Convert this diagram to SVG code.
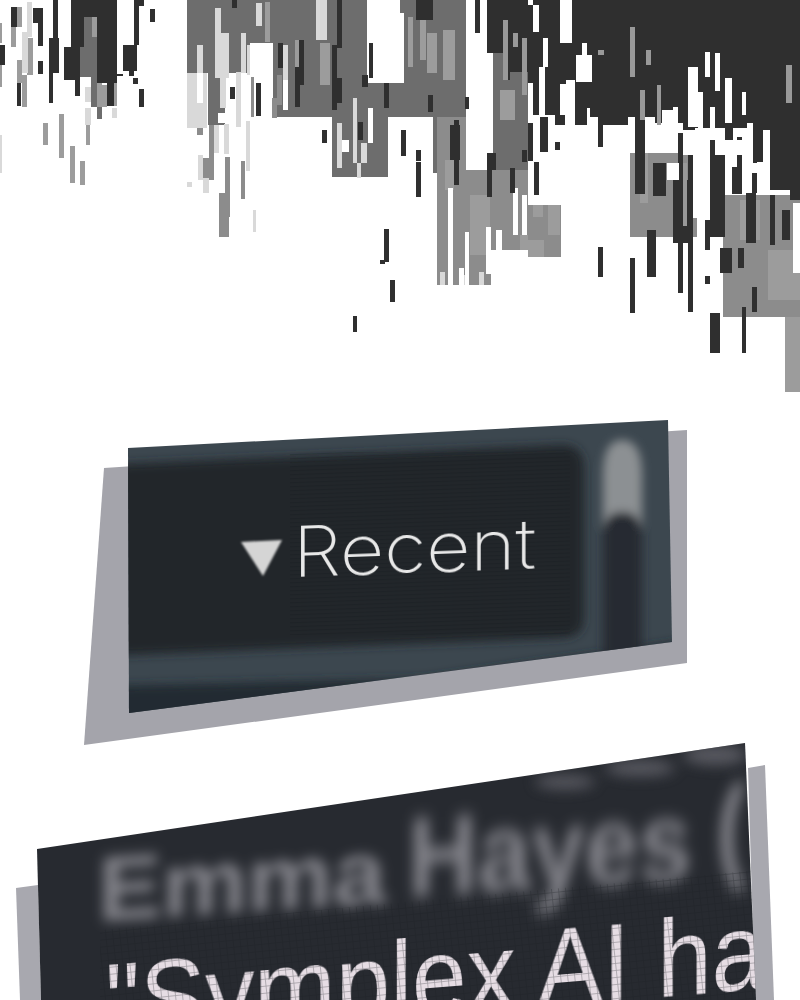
<svg xmlns="http://www.w3.org/2000/svg" width="800" height="1000" viewBox="0 0 800 1000">
<style>
.b{shape-rendering:crispEdges}
.sans{font-family:"Liberation Sans",Arial,sans-serif}
.blurtext{fill:#85858c;font-weight:700}
</style>
<defs>
<filter id="b1" x="-20%" y="-20%" width="140%" height="140%"><feGaussianBlur stdDeviation="1"/></filter>
<filter id="b03" x="-5%" y="-20%" width="110%" height="140%"><feGaussianBlur stdDeviation="0.5"/></filter>
<filter id="b5" x="-30%" y="-40%" width="160%" height="180%"><feGaussianBlur stdDeviation="6.5"/></filter>
<filter id="b6" x="-20%" y="-20%" width="140%" height="140%"><feGaussianBlur stdDeviation="5"/></filter>
<filter id="b8" x="-50%" y="-100%" width="200%" height="300%"><feGaussianBlur stdDeviation="7"/></filter>
<clipPath id="c1"><polygon points="128,448 668,420 672,642 129,713"/></clipPath>
<clipPath id="c2"><polygon points="37,849 745,743 756,1000 41,1000"/></clipPath>
<pattern id="scan" width="6" height="4" patternUnits="userSpaceOnUse" patternTransform="rotate(-2)"><rect width="6" height="1.3" fill="#10151a" opacity=".2"/></pattern>
<pattern id="grid" width="7" height="7" patternUnits="userSpaceOnUse" patternTransform="rotate(-6)"><path d="M0 0H7M0 0V7" stroke="#1b1c22" stroke-width="1.5" fill="none" opacity=".35"/></pattern>
</defs>
<rect width="800" height="1000" fill="#fff"/>

<g id="mosaic" class="b">
<path fill="#6d6d6d" d="M80 17h17v60h-17zM91 70h6v37h-6zM97 107h5v12h-5zM187 0h63v73h-63zM208 73h17v52h-17zM240 0h33v43h-33zM240 43h10v30h-10zM273 0h94v117h-94zM332 83h68v34h-68zM332 117h56v60h-56zM400 0h66v13h-66zM404 13h62v70h-62zM400 83h33v34h-33zM433 83h33v90h-33zM493 50h35v120h-35zM466 170h25v20h-25zM437 173h50v20h-50z"/>
<path fill="#8c8c8c" d="M437 117h54v168h-54zM490 170h38v80h-38zM528 205h33v52h-33zM225 157h5v60h-5zM219 193h10v44h-10zM241 161h4v38h-4zM251 77h3v40h-3zM277 75h5v30h-5zM272 98h5v20h-5zM197 105h6v30h-6zM209 125h5v55h-5zM203 158h7v22h-7zM723 195h77v122h-77zM630 153h67v84h-67z"/>
<path fill="#9c9c9c" d="M43 123h5v22h-5zM59 114h5v44h-5zM70 146h5v37h-5zM80 161h5v24h-5zM86 125h4v20h-4zM27 38h6v37h-6zM17 60h5v23h-5zM22 75h5v32h-5zM92 7h5v30h-5zM102 12h5v60h-5zM0 23h2v20h-2zM0 65h2v22h-2zM11 27h5v20h-5zM17 7h5v20h-5zM97 83h5v24h-5zM102 85h5v22h-5zM112 58h5v48h-5zM265 2h5v40h-5zM320 43h10v42h-10zM295 40h7v35h-7zM427 33h10v40h-10zM443 30h12v50h-12zM420 20h6v40h-6zM408 17h5v50h-5zM500 90h15v30h-15zM470 195h20v60h-20zM520 235h8v15h-8zM445 160h9v30h-9zM533 205h10v12h-10zM548 205h12v30h-12zM528 240h16v17h-16zM785 317h15v75h-15zM640 153h8v50h-8zM740 200h20v40h-20zM768 250h32v50h-32z"/>
<path fill="#d9d9d9" d="M22 32h6v41h-6zM27 2h5v35h-5zM85 87h6v15h-6zM85 108h6v17h-6zM112 108h5v10h-5zM0 135h2v38h-2zM187 73h20v55h-20zM215 33h14v45h-14zM215 8h6v60h-6zM197 45h6v30h-6zM220 78h6v30h-6zM241 33h5v40h-5zM247 45h3v30h-3zM236 72h5v55h-5zM246 121h4v50h-4zM253 210h3v22h-3zM256 3h6v23h-6zM316 0h11v40h-11zM283 45h5v60h-5zM224 124h5v30h-5zM214 125h5v28h-5zM198 155h5v25h-5zM203 178h6v15h-6zM187 182h5v5h-5zM337 123h5v45h-5zM353 98h4v65h-4zM361 143h6v20h-6zM357 163h4v15h-4zM440 272h5v13h-5zM479 272h5v13h-5zM461 275h4v10h-4z"/>
<path fill="#fff" d="M367 13h37v70h-37zM197 73h6v30h-6zM283 80h5v30h-5zM218 113h12v10h-12zM342 140h7v12h-7zM368 108h5v35h-5zM466 0h9v33h-9zM466 33h27v137h-27zM483 0h4v47h-4zM448 188h5v97h-5zM513 188h5v47h-5zM522 195h5v40h-5zM486 227h5v47h-5zM465 232h4v53h-4zM459 268h5v17h-5zM496 230h6v20h-6zM793 203h7v70h-7z"/>
<path fill="#2f2f2f" d="M507 0H800V200H790V190H770V130H763V163H753V128H733V140H725V128H695V130H683V123H655V117H628V125H603V117H590V108H582V125H575V80H566V84H560V115H528V72H507z"/>
<path fill="#2f2f2f" d="M0 45h5v20h-5zM11 7h6v20h-6zM33 8h10v15h-10zM38 8h5v38h-5zM38 61h5v13h-5zM53 0h5v38h-5zM49 38h10v35h-10zM49 73h4v30h-4zM71 0h13v47h-13zM84 0h13v17h-13zM64 47h16v33h-16zM75 80h5v16h-5zM97 0h20v83h-20zM107 83h7v23h-7zM134 0h10v6h-10zM134 6h5v39h-5zM123 45h14v26h-14zM129 71h5v5h-5zM150 9h5v13h-5zM133 78h5v6h-5zM139 89h5v18h-5zM17 83h4v23h-4zM117 74h6v2h-6zM232 0h5v8h-5zM278 43h5v25h-5zM256 83h5v33h-5zM230 87h5v12h-5zM299 40h5v40h-5zM295 67h9v18h-9zM295 67h5v40h-5zM337 0h5v48h-5zM332 45h5v65h-5zM337 78h5v25h-5zM322 130h5v13h-5zM369 43h4v35h-4zM362 75h6v12h-6zM384 83h5v25h-5zM358 122h5v18h-5zM384 229h5v33h-5zM380 260h5v4h-5zM390 280h5v22h-5zM353 316h4v16h-4zM401 130h5v26h-5zM416 150h5v11h-5zM416 162h5v35h-5zM416 0h17v20h-17zM428 95h5v17h-5zM465 97h4v12h-4zM450 125h10v35h-10zM454 120h5v65h-5zM475 0h5v33h-5zM487 0h20v53h-20zM507 0h3v80h-3zM487 153h9v17h-9zM487 170h5v27h-5zM510 168h5v25h-5zM522 150h5v12h-5zM582 80h5v45h-5zM598 110h5v37h-5zM555 142h5v8h-5zM540 117h8v35h-8zM534 162h5v33h-5zM528 123h5v38h-5zM555 115h10v10h-10zM598 247h5v30h-5zM630 258h5v55h-5zM705 276h5v8h-5zM710 313h10v40h-10zM742 307h4v46h-4zM752 287h5v25h-5zM635 117h10v77h-10zM653 163h13v33h-13zM673 180h20v63h-20zM678 133h5v160h-5zM688 155h5v157h-5zM647 230h9v47h-9zM705 220h5v30h-5zM710 140h15v97h-15zM732 167h10v27h-10zM737 137h5v57h-5zM752 173h5v20h-5zM746 193h10v50h-10zM720 248h12v25h-12zM738 248h6v20h-6zM770 195h5v50h-5zM782 210h8v30h-8z"/>
<path fill="#fff" d="M533 5h6v27h-6zM528 0h5v5h-5zM528 83h5v35h-5zM539 67h6v50h-6zM543 38h5v29h-5zM560 0h12v43h-12zM576 55h16v27h-16zM582 43h5v12h-5zM705 52h5v25h-5zM715 53h5v38h-5zM725 78h7v45h-7zM742 92h4v23h-4zM698 92h5v37h-5zM688 67h10v60h-10zM710 107h5v30h-5zM662 110h13v40h-13zM673 107h5v17h-5zM683 130h22v25h-22zM693 155h17v63h-17zM715 128h10v27h-10zM747 123h6v40h-6zM742 175h10v18h-10zM757 162h8v33h-8zM763 130h3v33h-3zM667 163h12v17h-12zM725 140h22v15h-22zM742 155h5v12h-5z"/>
<path fill="#999" d="M630 27h5v50h-5zM646 50h5v15h-5zM598 50h6v5h-6zM786 65h6v38h-6zM657 85h4v40h-4zM640 90h5v30h-5zM683 163h4v63h-4zM522 38h5v57h-5zM513 33h5v14h-5zM503 20h5v60h-5z"/>
</g>

<g id="panel-recent">
<polygon points="104,468 687,430 687,663 84,745" fill="#a4a4ab"/>
<polygon points="128,448 668,420 672,642 129,713" fill="#3c474f"/>
<g clip-path="url(#c1)">
<g filter="url(#b6)">
<path d="M100 465L562 445Q584 445 584 468V618Q584 637 562 638L100 656Z" fill="#22272c"/>
<path d="M100 686L500 677L500 690L100 740Z" fill="#232b31"/>
<path d="M400 682L680 642L680 720L400 720Z" fill="#232b31"/>
<path d="M603 650V475Q603 440 622 440Q642 440 642 475V650Z" fill="#8c9093"/>
<path d="M603 700V535Q603 512 622 512Q642 512 642 535V700Z" fill="#262c32"/>
</g>
<path d="M290 452H570V635H290Z" fill="url(#scan)"/>
</g>
<path d="M241 542L282 540L263 576Z" fill="#d5d5d5" filter="url(#b1)"/>
<text class="sans" transform="matrix(1 -0.035 0 1 293 577)" font-size="70" style="font-family:Inter,'Liberation Sans',sans-serif;font-weight:200" fill="#e8e8e8" textLength="243" lengthAdjust="spacingAndGlyphs" filter="url(#b03)">Recent</text>
</g>

<g id="panel-quote">
<polygon points="16,888 38,885 41,1000 20,1000" fill="#a8a8af"/>
<polygon points="748,768 765,765 774,1000 755,1000" fill="#a8a8af"/>
<polygon points="37,849 745,743 756,1000 41,1000" fill="#272a30"/>
<g clip-path="url(#c2)">
<g fill="#6a6b72" opacity=".75" filter="url(#b8)">
<ellipse cx="565" cy="782" rx="30" ry="7"/>
<ellipse cx="640" cy="768" rx="35" ry="8"/>
<ellipse cx="715" cy="755" rx="32" ry="10"/>
</g>
<text class="sans blurtext" transform="matrix(1 -0.062 0 1 98 921)" font-size="90" textLength="288" lengthAdjust="spacingAndGlyphs" filter="url(#b5)">Emma</text>
<text class="sans blurtext" transform="matrix(1 -0.062 0 1.22 408 897)" font-size="92" textLength="284" lengthAdjust="spacingAndGlyphs" filter="url(#b5)">Hayes</text>
<text class="sans blurtext" transform="matrix(1 -0.062 0 1.25 716 868)" font-size="92" filter="url(#b5)">(</text>
<text class="sans" transform="matrix(1 -0.08 0 1.12 105 1041)" font-size="98" fill="#e6dde4" filter="url(#b03)">"Symplex AI ha</text>
<polygon points="100,930 760,870 760,1000 100,1000" fill="url(#grid)"/>
</g>
</g>
</svg>
